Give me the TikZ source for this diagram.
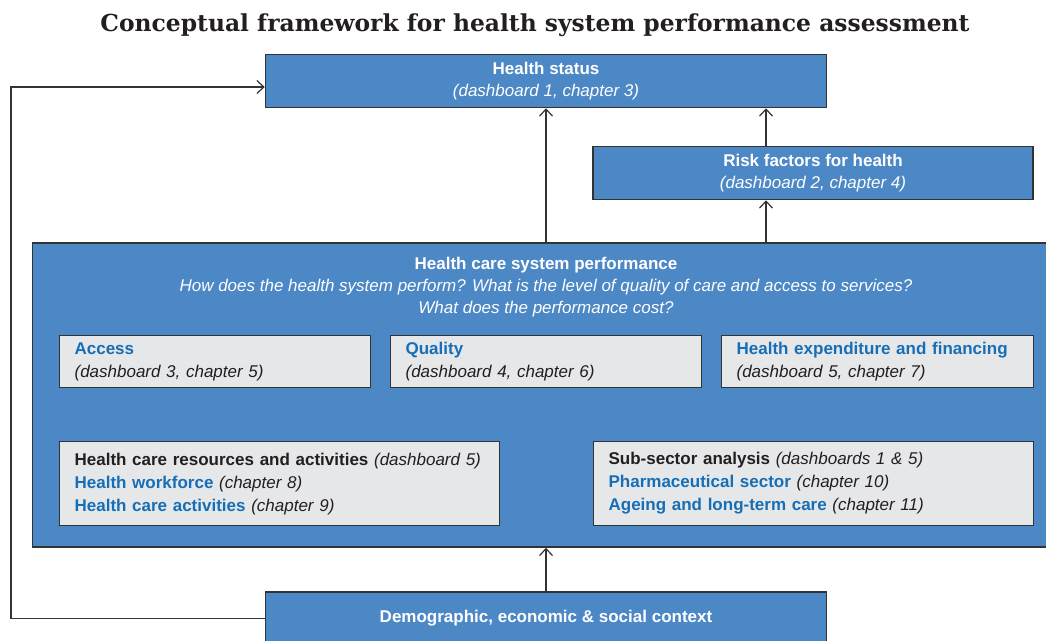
\documentclass[tikz,border=0pt]{standalone}
\usepackage{fontspec}
\setmainfont{Liberation Sans}
\newfontfamily\slabfont{DejaVu Serif}
\usepackage{xcolor}
\usetikzlibrary{arrows.meta, positioning}

\definecolor{boxblue}{RGB}{76,135,198}
\definecolor{boxgrey}{RGB}{230,231,233}
\definecolor{boxline}{RGB}{51,51,51}
\definecolor{linkblue}{RGB}{22,111,182}
\definecolor{textdark}{RGB}{35,31,32}

\newcommand{\topic}[1]{\textbf{\color{linkblue}#1}}

\begin{document}
\begin{tikzpicture}[x=1pt, y=-1pt]
    % Styles
    \tikzstyle{bluebox} = [rectangle, draw=boxline, fill=boxblue, line width=1.5pt, text=white, align=center, inner sep=0pt, font=\fontsize{17}{22}\selectfont]
    \tikzstyle{greybox} = [rectangle, draw=boxline, fill=boxgrey, line width=1.2pt, text=textdark, anchor=north west, align=left, inner xsep=15pt, inner ysep=0pt, font=\fontsize{17}{23}\selectfont]
    \tikzstyle{flowline} = [draw=boxline, line width=1.2pt, -{Straight Barb[length=7pt, width=13pt]}]

    \useasboundingbox (0,0) rectangle (1046,640);
    \clip (0,0) rectangle (1046,640);

    % Title
    \node [font=\slabfont\bfseries\fontsize{23.4}{28}\selectfont, text=textdark] (title) at (535,25) {Conceptual framework for health system performance assessment};

    % Nodes
    \node [bluebox, minimum width=561pt, minimum height=53pt] (health) at (546,81) {\textbf{Health status}\\\textit{(dashboard 1, chapter 3)}};
    \node [bluebox, minimum width=440pt, minimum height=53pt] (risk) at (813,173) {\textbf{Risk factors for health}\\\textit{(dashboard 2, chapter 4)}};
    \node [bluebox, minimum width=1027pt, minimum height=304pt] (perf) at (546,395) {};
    \node [align=center, text=white, font=\fontsize{17}{22}\selectfont] (perftitle) at (546,287) {\textbf{Health care system performance}\\\textit{How does the health system perform? What is the level of quality of care and access to services?}\\\textit{What does the performance cost?}};
    \node [bluebox, minimum width=561pt, minimum height=53pt] (demo) at (546,618.5) {\textbf{Demographic, economic \& social context}};

    % Inner boxes
    \node [greybox, text width=281pt, minimum height=52pt] (access) at (59,335) {\topic{Access}\\\textit{(dashboard 3, chapter 5)}};
    \node [greybox, text width=281pt, minimum height=52pt] (quality) at (390,335) {\topic{Quality}\\\textit{(dashboard 4, chapter 6)}};
    \node [greybox, text width=282pt, minimum height=52pt] (expend) at (721,335) {\topic{Health expenditure and financing}\\\textit{(dashboard 5, chapter 7)}};
    \node [greybox, text width=410pt, minimum height=84pt] (resources) at (59,441) {\textbf{Health care resources and activities} \textit{(dashboard 5)}\\\topic{Health workforce} \textit{(chapter 8)}\\\topic{Health care activities} \textit{(chapter 9)}};
    \node [greybox, text width=410pt, minimum height=84pt] (subsector) at (593,441) {\textbf{Sub-sector analysis} \textit{(dashboards 1 \& 5)}\\\topic{Pharmaceutical sector} \textit{(chapter 10)}\\\topic{Ageing and long-term care} \textit{(chapter 11)}};

    % Paths: context -> performance -> health
    \draw [flowline] (demo.north) -- (perf.south);
    \draw [flowline] (perf.north) -- (health.south);

    % Paths: performance -> risk factors -> health
    \draw [flowline] ([xshift=-47pt]risk.south |- perf.north) -- ([xshift=-47pt]risk.south);
    \draw [flowline] ([xshift=-47pt]risk.north) -- ([xshift=-47pt]risk.north |- health.south);

    % Paths: context -> health (feedback loop)
    \coordinate (loop) at (11,0);
    \draw [flowline] (demo.west) -- (demo.west -| loop) -- ([yshift=-6pt]health.west -| loop) -- ([yshift=-6pt]health.west);

\end{tikzpicture}
\end{document}
